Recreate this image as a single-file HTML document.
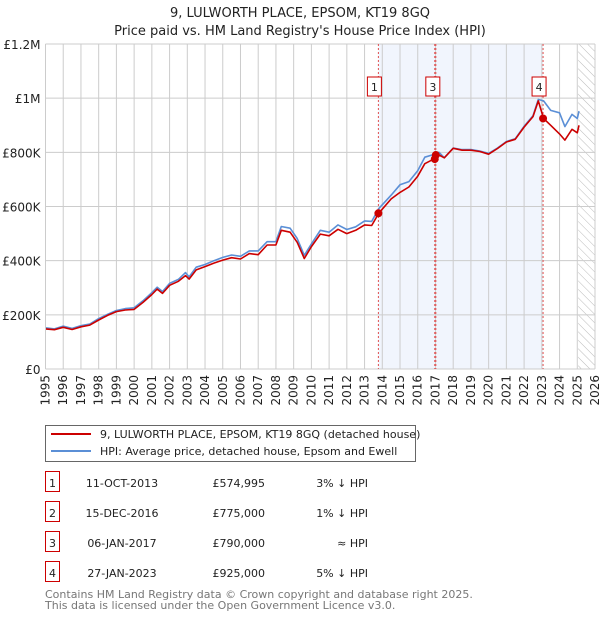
<!DOCTYPE html>
<html><head><meta charset="utf-8"><style>
body{margin:0;background:#fff;font-family:"Liberation Sans","DejaVu Sans",sans-serif;}
svg text{font-family:"DejaVu Sans","Liberation Sans",sans-serif;}
</style></head><body>
<svg id="c" width="600" height="620" xmlns="http://www.w3.org/2000/svg">
<defs><pattern id="hatch" width="6" height="6" patternUnits="userSpaceOnUse" patternTransform="rotate(-45)"><line x1="0" y1="0" x2="0" y2="6" stroke="#bbb" stroke-width="1"/></pattern></defs>
<text x="300" y="17" text-anchor="middle" font-size="13" fill="#222">9, LULWORTH PLACE, EPSOM, KT19 8GQ</text>
<text x="300" y="35" text-anchor="middle" font-size="13" fill="#222">Price paid vs. HM Land Registry's House Price Index (HPI)</text>
<g id="plot"></g>
<g>
<rect x="45.5" y="425.5" width="370" height="36" fill="#fff" stroke="#666"/>
<line x1="51" y1="434" x2="91" y2="434" stroke="#cc0000" stroke-width="2"/>
<text x="100" y="438" font-size="11" fill="#222">9, LULWORTH PLACE, EPSOM, KT19 8GQ (detached house)</text>
<line x1="51" y1="451" x2="91" y2="451" stroke="#5b8fd6" stroke-width="2"/>
<text x="100" y="455" font-size="11" fill="#222">HPI: Average price, detached house, Epsom and Ewell</text>
</g>
<g id="table"></g>
<text x="45" y="598" font-size="11" fill="#777">Contains HM Land Registry data © Crown copyright and database right 2025.</text>
<text x="45" y="609" font-size="11" fill="#777">This data is licensed under the Open Government Licence v3.0.</text>
</svg>
<script>
const hpiYears=[1995.0,1995.5,1996.0,1996.5,1997.0,1997.5,1998.0,1998.5,1999.0,1999.5,2000.0,2000.5,2001.0,2001.3,2001.6,2002.0,2002.5,2002.9,2003.1,2003.5,2004.0,2004.5,2005.0,2005.5,2006.0,2006.5,2007.0,2007.5,2008.0,2008.3,2008.8,2009.2,2009.6,2010.0,2010.5,2011.0,2011.5,2012.0,2012.5,2013.0,2013.4,2013.8,2014.5,2015.0,2015.5,2016.0,2016.4,2016.9,2017.2,2017.5,2018.0,2018.5,2019.0,2019.5,2020.0,2020.5,2021.0,2021.5,2022.0,2022.5,2022.8,2023.1,2023.5,2024.0,2024.3,2024.7,2025.0,2025.1];
const hpiValues=[152,148,158,150,160,166,186,202,216,223,226,252,282,302,286,316,331,356,340,376,386,400,412,421,416,436,436,470,470,526,520,482,420,462,512,505,532,515,525,547,545,592,642,680,692,732,782,792,800,780,816,810,810,805,796,816,840,850,896,935,995,990,955,946,895,940,925,952];
const propYears=[1995.0,1995.5,1996.0,1996.5,1997.0,1997.5,1998.0,1998.5,1999.0,1999.5,2000.0,2000.5,2001.0,2001.3,2001.6,2002.0,2002.5,2002.9,2003.1,2003.5,2004.0,2004.5,2005.0,2005.5,2006.0,2006.5,2007.0,2007.5,2008.0,2008.3,2008.8,2009.2,2009.6,2010.0,2010.5,2011.0,2011.5,2012.0,2012.5,2013.0,2013.4,2013.8,2014.5,2015.0,2015.5,2016.0,2016.4,2016.9,2017.2,2017.5,2018.0,2018.5,2019.0,2019.5,2020.0,2020.5,2021.0,2021.5,2022.0,2022.5,2022.8,2023.1,2023.5,2024.0,2024.3,2024.7,2025.0,2025.1];
const propValues=[148,145,154,146,156,162,181,198,212,218,220,246,275,295,279,309,324,345,332,366,378,391,402,411,406,426,422,458,458,512,505,468,408,452,498,492,516,500,512,532,530,575,628,652,672,712,758,775,790,780,815,808,808,803,793,814,838,848,893,932,990,925,900,868,845,885,872,900];
const sales=[{n:"1",t:2013.78,v:574.995,d:"11-OCT-2013",p:"£574,995",h:"3% ↓ HPI"},{n:"2",t:2016.96,v:775,d:"15-DEC-2016",p:"£775,000",h:"1% ↓ HPI"},{n:"3",t:2017.02,v:790,d:"06-JAN-2017",p:"£790,000",h:"≈ HPI"},{n:"4",t:2023.07,v:925,d:"27-JAN-2023",p:"£925,000",h:"5% ↓ HPI"}];
const yTicks=[0,200,400,600,800,1000,1200];
const yLabels=["£0","£200K","£400K","£600K","£800K","£1M","£1.2M"];
const xTicks=[1995,1996,1997,1998,1999,2000,2001,2002,2003,2004,2005,2006,2007,2008,2009,2010,2011,2012,2013,2014,2015,2016,2017,2018,2019,2020,2021,2022,2023,2024,2025,2026];
const NS="http://www.w3.org/2000/svg";
const L=45.5,R=595,T=44,B=369;
const X=t=>L+(t-1995)/(2026-1995)*(R-L);
const Y=v=>B-v/1200*(B-T);
const g=document.getElementById('plot');
function mk(tag,a,parent){const e=document.createElementNS(NS,tag);for(const k in a)e.setAttribute(k,a[k]);(parent||g).appendChild(e);return e;}
let e=mk('rect',{x:X(2013.78),y:T,width:X(2023.07)-X(2013.78),height:B-T,fill:'#eef3fc',opacity:0.8});


e=mk('rect',{x:X(2025.05),y:T,width:R-X(2025.05),height:B-T,fill:'url(#hatch)'});


xTicks.forEach(t=>{const l=mk('line',{x1:X(t),x2:X(t),y1:T,y2:B,stroke:'#ccc','stroke-width':1});


const tx=mk('text',{x:0,y:0,'font-size':12,fill:'#222','text-anchor':'end',transform:`translate(${X(t)+4},${B+6}) rotate(-90)`});tx.textContent=t;

});
yTicks.forEach((v,i)=>{const l=mk('line',{x1:L,x2:R,y1:Y(v),y2:Y(v),stroke:'#ccc','stroke-width':1});


const tx=mk('text',{x:L-5,y:Y(v)+5,'font-size':12,fill:'#222','text-anchor':'end'});tx.textContent=yLabels[i];

});
sales.forEach(s=>{const l=mk('line',{x1:X(s.t),x2:X(s.t),y1:T,y2:B,stroke:'#e05050','stroke-width':1,'stroke-dasharray':'2,2'});

});
function path(xs,vs,col,name){const d=xs.map((t,i)=>(i?'L':'M')+X(t).toFixed(1)+','+Y(vs[i]).toFixed(1)).join('');
const p=mk('path',{d:d,fill:'none',stroke:col,'stroke-width':1.6,'stroke-linejoin':'round'});

}
path(hpiYears,hpiValues,'#5b8fd6','hpi-line');
path(propYears,propValues,'#cc0000','property-line');
sales.forEach(s=>{const c=mk('circle',{cx:X(s.t),cy:Y(s.v),r:4,fill:'#cc0000'});


if(s.n!=="2"){const off=s.n==="3"?-3:-4;const gx=X(s.t)+off;
const b=mk('rect',{x:gx-7,y:77,width:14,height:19,fill:'#fff',stroke:'#cc0000'});


const tx=mk('text',{x:gx,y:91,'font-size':11,'text-anchor':'middle',fill:'#222'});tx.textContent=s.n;

}});
mk('line',{x1:L,x2:L,y1:T,y2:B,stroke:'#ccc'});
const tb=document.getElementById('table');
sales.forEach((s,i)=>{const y=487+i*30;
const b=mk('rect',{x:45.5,y:y-15.5,width:14,height:20,fill:'#fff',stroke:'#cc0000'},tb);


const cells=[[52.5,s.n,'middle'],[122,s.d,'middle'],[265,s.p,'end'],[368,s.h,'end']];
cells.forEach(c=>{const tx=mk('text',{x:c[0],y:y,'font-size':11,fill:'#222','text-anchor':c[2]},tb);tx.textContent=c[1];

});});
</script>
</body></html>
